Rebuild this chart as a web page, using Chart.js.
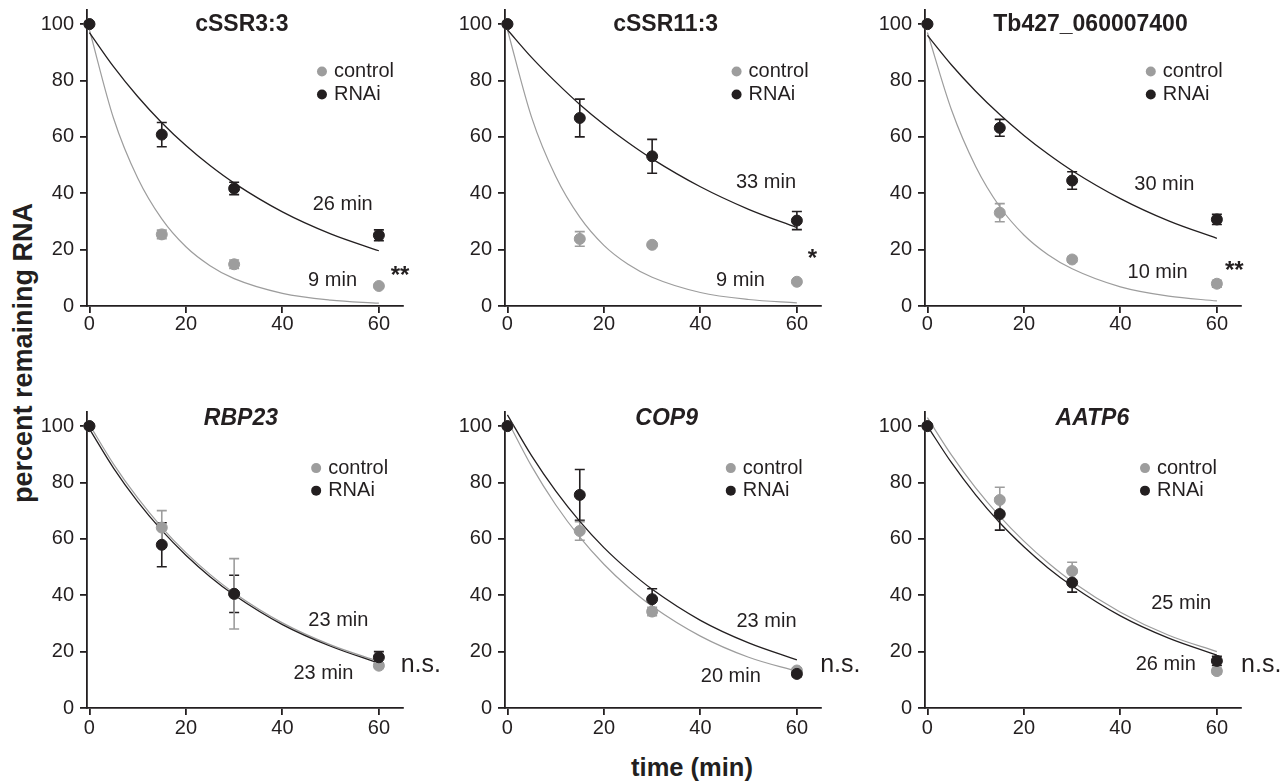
<!DOCTYPE html>
<html>
<head>
<meta charset="utf-8">
<script src="https://cdn.jsdelivr.net/npm/chart.js@4.4.1/dist/chart.umd.min.js"></script>
<style>
  html, body { margin: 0; padding: 0; background: #fff; width: 1287px; height: 782px; overflow: hidden; }
  body { position: relative; font-family: "Liberation Sans", Arial, sans-serif; color: #231f20; }
  canvas { position: absolute; }
  .axis-title { position: absolute; font-weight: bold; white-space: nowrap; transform: translate(-50%, -50%); }
</style>
</head>
<body>
<div class="axis-title" style="left:23px; top:353px; font-size:27px; transform:translate(-50%,-50%) rotate(-90deg);">percent remaining RNA</div>
<div class="axis-title" style="left:692px; top:767px; font-size:25.5px;">time (min)</div>
<script>
// values
const panelNames = ['cSSR3:3', 'cSSR11:3', 'Tb427_060007400', 'RBP23', 'COP9', 'AATP6'];
const italicTitle = [false, false, false, true, true, true];
const seriesNames = ['control', 'RNAi'];
const timePoints = [0, 15, 30, 60];
const xTicks = [0, 20, 40, 60];
const yTicks = [0, 20, 40, 60, 80, 100];
const curveTimes = [0, 5, 10, 15, 20, 25, 30, 40, 50, 60];

const controlMean = [
  [100, 25.4, 14.8, 7.1],
  [100, 23.8, 21.7, 8.6],
  [100, 33.1, 16.5, 7.9],
  [100, 64.0, 40.5, 15.0],
  [100, 62.8, 34.2, 13.3],
  [100, 73.8, 48.6, 13.1]
];
const controlErr = [
  [0, 1.5, 1.5, 0.8],
  [0, 2.6, 0.5, 0.5],
  [0, 3.2, 1.0, 1.2],
  [0, 6.0, 12.5, 1.0],
  [0, 3.3, 1.5, 1.0],
  [0, 4.5, 3.1, 1.0]
];
const rnaiMean = [
  [100, 60.8, 41.7, 25.1],
  [100, 66.7, 53.1, 30.3],
  [100, 63.2, 44.5, 30.7],
  [100, 57.9, 40.5, 18.0],
  [100, 75.6, 38.6, 12.1],
  [100, 68.8, 44.5, 16.7]
];
const rnaiErr = [
  [0, 4.3, 2.2, 1.9],
  [0, 6.7, 6.0, 3.2],
  [0, 3.0, 3.1, 1.8],
  [0, 7.8, 6.6, 2.0],
  [0, 9.0, 3.7, 1.0],
  [0, 5.7, 3.4, 1.6]
];
// fitted decay curves, sampled at curveTimes
const controlFit = [
  [98, 66.6, 45.4, 30.9, 21.0, 14.3, 9.7, 4.5, 2.1, 1.0],
  [98, 67.0, 46.0, 31.5, 21.5, 14.8, 10.2, 4.8, 2.3, 1.1],
  [97, 69.5, 49.5, 35.2, 25.2, 18.2, 13.2, 6.8, 3.5, 1.8],
  [100.5, 86.5, 74.5, 64.1, 55.1, 47.4, 40.8, 30.2, 22.4, 16.5],
  [102, 85.8, 72.1, 60.6, 51.0, 42.9, 36.1, 25.5, 18.0, 13.0],
  [103, 89.7, 78.1, 68.0, 59.2, 51.5, 44.8, 34.0, 25.8, 20.0]
];
const rnaiFit = [
  [97, 84.9, 74.3, 65.0, 56.9, 49.8, 43.6, 33.4, 25.6, 19.6],
  [98, 88.2, 79.5, 71.5, 64.4, 58.0, 52.2, 42.3, 34.3, 27.8],
  [96, 85.5, 76.2, 67.9, 60.5, 53.9, 48.0, 38.1, 30.2, 24.0],
  [99, 85.1, 73.2, 63.0, 54.2, 46.6, 40.1, 29.6, 21.9, 15.9],
  [104, 89.5, 77.0, 66.2, 56.9, 49.0, 42.1, 31.1, 23.1, 17.1],
  [100, 87.0, 75.6, 65.7, 57.2, 49.7, 43.3, 32.7, 24.8, 18.8]
];
const controlHalfLife = ['9 min', '9 min', '10 min', '23 min', '20 min', '25 min'];
const rnaiHalfLife = ['26 min', '33 min', '30 min', '23 min', '23 min', '26 min'];
const significance = ['**', '*', '**', 'n.s.', 'n.s.', 'n.s.'];

// where things sit (canvas offsets in px, text anchors in data units)
const panelLayout = [
  { left: 0,   top: -10, xPad: -1, title: [31.6, 99.7],  legend: [48.2, 83.2, 75.0], ctrl: [50.4, 9.1],  rnai: [52.5, 36.0], sig: [64.4, 10.5] },
  { left: 418, top: -10, xPad: -1, title: [32.8, 99.7],  legend: [47.5, 83.2, 75.0], ctrl: [48.3, 8.9],  rnai: [53.6, 43.9], sig: [63.2, 16.4] },
  { left: 838, top: -10, xPad: -1, title: [33.8, 99.7],  legend: [46.3, 83.2, 75.0], ctrl: [47.7, 11.8], rnai: [49.1, 43.1], sig: [63.6, 12.3] },
  { left: 0,   top: 392, xPad: 1,  title: [31.4, 102.8], legend: [47.0, 85.1, 77.1], ctrl: [48.5, 12.3], rnai: [51.6, 31.0], sig: [68.7, 15.3] },
  { left: 418, top: 392, xPad: 1,  title: [33.0, 102.8], legend: [46.3, 85.1, 77.1], ctrl: [46.3, 11.1], rnai: [53.7, 30.6], sig: [69.0, 15.3] },
  { left: 838, top: 392, xPad: 1,  title: [34.2, 102.8], legend: [45.1, 85.1, 77.1], ctrl: [52.6, 36.9], rnai: [49.4, 15.6], sig: [69.2, 15.3] }
];

const FONT = '"Liberation Sans", Arial, sans-serif';
const INK = '#231f20';
const GREY = '#9d9d9d';
const CW = 452, CH = 356, YW = 87, XH = 40, AREA_W = 316;

Chart.defaults.font.family = FONT;

const panelText = {
  id: 'panelText',
  beforeDatasetsDraw(chart, args, o) {
    const { ctx, scales: { x, y } } = chart;
    ctx.save();
    chart.data.datasets.forEach(ds => {
      if (!ds.errors) return;
      ctx.strokeStyle = ds.borderColor;
      ctx.lineWidth = 1.6;
      ds.data.forEach((p, j) => {
        const e = ds.errors[j];
        if (!e) return;
        const px = x.getPixelForValue(p.x);
        const top = y.getPixelForValue(p.y + e);
        const bot = y.getPixelForValue(p.y - e);
        ctx.beginPath();
        ctx.moveTo(px, top); ctx.lineTo(px, bot);
        ctx.moveTo(px - 5, top); ctx.lineTo(px + 5, top);
        ctx.moveTo(px - 5, bot); ctx.lineTo(px + 5, bot);
        ctx.stroke();
      });
    });
    ctx.restore();
  },
  afterDatasetsDraw(chart, args, o) {
    const i = o.index;
    const L = panelLayout[i];
    const { ctx, scales: { x, y } } = chart;
    const tx = v => x.getPixelForValue(v);
    const ty = v => y.getPixelForValue(v);
    ctx.save();
    ctx.textBaseline = 'middle';

    ctx.fillStyle = INK;
    ctx.textAlign = 'center';
    ctx.font = (italicTitle[i] ? 'italic ' : '') + 'bold 23px ' + FONT;
    ctx.fillText(panelNames[i], tx(L.title[0]), ty(L.title[1]));

    // legend
    [GREY, INK].forEach((c, k) => {
      const cx = tx(L.legend[0]), cy = ty(L.legend[1 + k]);
      ctx.fillStyle = c;
      ctx.beginPath(); ctx.arc(cx, cy, 5, 0, 2 * Math.PI); ctx.fill();
      ctx.fillStyle = INK;
      ctx.textAlign = 'left';
      ctx.font = '20px ' + FONT;
      ctx.fillText(seriesNames[k], cx + 12, cy);
    });

    // half-lives
    ctx.textAlign = 'center';
    ctx.font = '20px ' + FONT;
    ctx.fillText(controlHalfLife[i], tx(L.ctrl[0]), ty(L.ctrl[1]));
    ctx.fillText(rnaiHalfLife[i], tx(L.rnai[0]), ty(L.rnai[1]));

    // significance
    const stars = significance[i].indexOf('*') >= 0;
    ctx.font = stars ? 'bold 24px ' + FONT : '25px ' + FONT;
    ctx.fillText(significance[i], tx(L.sig[0]), ty(L.sig[1]));
    ctx.restore();
  }
};

function axisStyle(pad) {
  return {
    grid: { drawOnChartArea: false, drawTicks: true, tickLength: 7, color: INK, lineWidth: 1.8 },
    border: { display: true, color: INK, width: 1.8 },
    ticks: { color: INK, font: { size: 20 }, padding: pad }
  };
}

function makePanel(i) {
  const pos = panelLayout[i];
  const cv = document.createElement('canvas');
  cv.width = CW; cv.height = CH;
  cv.style.left = pos.left + 'px';
  cv.style.top = pos.top + 'px';
  document.body.appendChild(cv);

  const pts = means => timePoints.map((t, j) => ({ x: t, y: means[j] }));
  const fit = vals => curveTimes.map((t, j) => ({ x: t, y: vals[j] }));

  new Chart(cv, {
    type: 'scatter',
    data: {
      datasets: [
        { label: seriesNames[1], data: pts(rnaiMean[i]), errors: rnaiErr[i], backgroundColor: INK, borderColor: INK,
          pointRadius: 5.5, pointHoverRadius: 5.5, clip: false, order: 0 },
        { label: seriesNames[0], data: pts(controlMean[i]), errors: controlErr[i], backgroundColor: GREY, borderColor: GREY,
          pointRadius: 5.5, pointHoverRadius: 5.5, clip: false, order: 1 },
        { type: 'line', data: fit(rnaiFit[i]), borderColor: INK, borderWidth: 1.3, pointRadius: 0,
          cubicInterpolationMode: 'monotone', fill: false, order: 2 },
        { type: 'line', data: fit(controlFit[i]), borderColor: GREY, borderWidth: 1.2, pointRadius: 0,
          cubicInterpolationMode: 'monotone', fill: false, order: 3 }
      ]
    },
    options: {
      responsive: false,
      animation: false,
      layout: { padding: { top: 20, left: 0, bottom: 0, right: CW - YW - AREA_W } },
      plugins: { legend: { display: false }, tooltip: { enabled: false }, panelText: { index: i } },
      scales: {
        x: Object.assign(axisStyle(pos.xPad), {
          type: 'linear', min: -0.5, max: 65,
          afterBuildTicks: s => { s.ticks = xTicks.map(v => ({ value: v })); },
          afterFit: s => { s.height = XH; }
        }),
        y: Object.assign(axisStyle(6), {
          type: 'linear', min: 0, max: 105,
          afterBuildTicks: s => { s.ticks = yTicks.map(v => ({ value: v })); },
          afterFit: s => { s.width = YW; }
        })
      }
    },
    plugins: [panelText]
  });
}

for (let i = 0; i < panelNames.length; i++) makePanel(i);
</script>
</body>
</html>
